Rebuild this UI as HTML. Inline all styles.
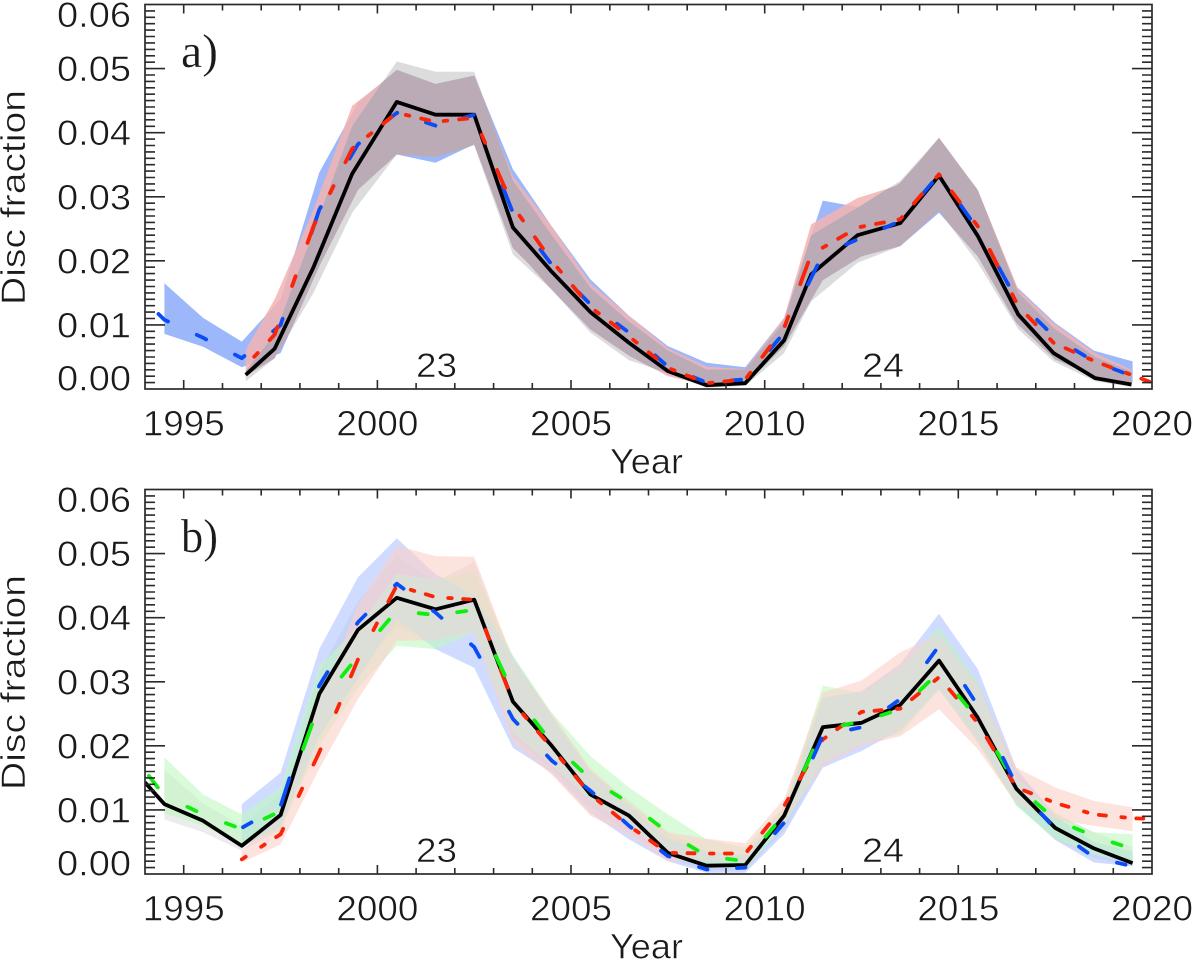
<!DOCTYPE html>
<html>
<head>
<meta charset="utf-8">
<title>Disc fraction vs year</title>
<style>
html,body{margin:0;padding:0;background:#fff;}
svg{display:block;}
text{font-family:"Liberation Sans",sans-serif;fill:#1a1a1a;stroke:#fff;stroke-width:.55px;}
.serif{font-family:"Liberation Serif",serif;stroke-width:.3px;}
</style>
</head>
<body>
<svg id="chart" width="1200" height="972" viewBox="0 0 1200 972" xmlns="http://www.w3.org/2000/svg"></svg>
<script>
// ---------- shared categories and tick labels ----------
const years94 = [1994.5,1995.5,1996.5,1997.5,1998.5,1999.5,2000.5,2001.5,2002.5,2003.5,2004.5,2005.5,2006.5,2007.5,2008.5,2009.5,2010.5,2011.5,2012.5,2013.5,2014.5,2015.5,2016.5,2017.5,2018.5,2019.5];
const years96 = [1996.5,1997.5,1998.5,1999.5,2000.5,2001.5,2002.5,2003.5,2004.5,2005.5,2006.5,2007.5,2008.5,2009.5,2010.5,2011.5,2012.5,2013.5,2014.5,2015.5,2016.5,2017.5,2018.5,2019.5];
const yearsA = [1996.6,1997.35,1998.35,1999.35,2000.5,2001.5,2002.5,2003.5,2004.5,2005.5,2006.5,2007.5,2008.5,2009.5,2010.5,2011.2,2012.4,2013.5,2014.5,2015.5,2016.55,2017.46,2018.53,2019.47];
const yearTicks = [1995,2000,2005,2010,2015,2020];
const fractionTicks = ["0.00","0.01","0.02","0.03","0.04","0.05","0.06"];

// ---------- panel a ----------
const aBlackValues = [.0022,.0063,.0190,.0336,.0448,.0428,.0428,.0252,.0183,.0120,.0072,.0028,.0006,.0009,.0076,.0179,.0240,.0259,.0333,.0239,.0116,.0056,.0017,.0007];
const aBlueYears = [1994.3].concat(years94);
const aBlueValues = [.012,.0108,.008,.0048,.01,.028,.0382,.0431,.0411,.0428,.0275,.0194,.0132,.0088,.0035,.001,.0015,.0088,.021,.0236,.0262,.0335,.0249,.014,.008,.0043,.002];
const aRedYears = yearsA.concat([2020]);
const aRedValues = [.0036,.0085,.0254,.0375,.0431,.0417,.0423,.0285,.02,.0128,.0082,.0033,.0009,.0015,.0095,.021,.0252,.0265,.0335,.0254,.0129,.0072,.0043,.0022,.001];
const aBlueUpper = [.0165,.0111,.0074,.014,.0338,.0447,.0498,.0476,.0489,.0343,.0254,.0171,.0114,.0067,.0041,.0034,.0111,.0294,.0283,.0322,.039,.0311,.016,.0103,.006,.0043];
const aBlueLower = [.0086,.0066,.0034,.0056,.0192,.0311,.0366,.0353,.0382,.022,.016,.0095,.0056,.0022,.0004,.0007,.0067,.017,.0207,.0223,.0275,.0207,.0103,.0046,.002,.001];
const aRedUpper = [.0061,.014,.028,.0442,.0496,.0476,.0483,.0332,.0254,.0165,.0114,.0064,.0035,.0031,.0111,.0257,.0298,.0319,.0392,.0311,.0155,.0103,.0056,.003];
const aRedLower = [.002,.0048,.0202,.03,.0382,.0362,.0382,.0223,.0155,.0093,.0052,.002,.0006,.0009,.0067,.0179,.0205,.0226,.028,.021,.0114,.0055,.0023,.001];
const aGrayUpper = [.0028,.0085,.0245,.041,.0511,.0495,.0495,.0325,.024,.0158,.0105,.006,.003,.003,.0105,.024,.0283,.0325,.0392,.031,.015,.0095,.005,.0027];
const aGrayLower = [.0012,.0048,.015,.0275,.0366,.0362,.038,.021,.0155,.0088,.0045,.0025,.0002,.0005,.0056,.0137,.0197,.0223,.0278,.0197,.0093,.0043,.0012,.0003];

// ---------- panel b ----------
const bBlackYears = [1994].concat(years94);
const bBlackValues = [.0143,.0109,.0083,.0044,.0092,.0281,.0381,.0431,.0413,.0428,.0269,.02,.0124,.0091,.0033,.0013,.0014,.0091,.0229,.0236,.0264,.0333,.0244,.0133,.0072,.004,.0017];
const bGreenYears = [1994.1].concat(years94);
const bGreenValues = [.0153,.0122,.0093,.007,.0098,.0265,.034,.0411,.0404,.0412,.0283,.0205,.0148,.0111,.0065,.0028,.002,.0093,.0226,.0238,.0257,.0315,.0242,.0138,.0085,.0059,.0039];
const bBlueValues = [.0072,.0106,.0294,.0393,.0453,.0408,.0354,.0242,.0177,.013,.0075,.0028,.0007,.001,.008,.0216,.0229,.0273,.0356,.0263,.0138,.007,.0026,.0012];
const bRedYears = years96.concat([2020]);
const bRedValues = [.0023,.0062,.019,.0335,.045,.0432,.0428,.0268,.0197,.0124,.0075,.0033,.0032,.0032,.0106,.021,.0253,.0258,.0307,.0236,.0135,.0111,.0093,.0087,.0086];
const bBlueUpper = [.0109,.0158,.0351,.0463,.0524,.0468,.0434,.034,.0247,.016,.0105,.0055,.0035,.003,.0095,.0275,.0285,.0328,.0406,.032,.0165,.009,.005,.0035];
const bBlueLower = [.0042,.0075,.0215,.0305,.0398,.0351,.0322,.0197,.0158,.0095,.0054,.002,.0002,.0002,.0062,.0166,.0192,.0225,.0288,.021,.0108,.0053,.0018,.0012];
const bRedUpper = [.0035,.0095,.027,.042,.0512,.0496,.0495,.0335,.025,.0165,.011,.0065,.0055,.0048,.0117,.0283,.0302,.0346,.0374,.0295,.0166,.0135,.0114,.0104];
const bRedLower = [.0018,.0046,.0164,.0273,.0364,.0365,.0377,.0205,.0155,.0091,.006,.002,.002,.002,.008,.0169,.02,.0215,.0257,.0195,.011,.0085,.0075,.0067];
const bGreenUpper = [.0182,.0124,.0093,.0135,.0325,.0385,.0468,.046,.0472,.0341,.0252,.0184,.0135,.0093,.0054,.0041,.0105,.0294,.0282,.032,.0385,.03,.015,.0095,.0065,.0062];
const bGreenLower = [.0095,.0075,.0045,.007,.02,.029,.0356,.0351,.0377,.022,.017,.0115,.0075,.003,.0012,.0008,.0075,.0175,.0205,.0218,.0288,.0205,.0106,.0055,.003,.0018];
const bGrayUpper = [.0163,.011,.0075,.0125,.0315,.0425,.0497,.0455,.0488,.033,.0245,.016,.0115,.0065,.0035,.003,.0105,.0275,.0282,.032,.0382,.03,.016,.0095,.0065,.0042];
const bGrayLower = [.0085,.0065,.0036,.0068,.0235,.032,.0385,.0365,.0385,.0215,.0165,.0105,.0065,.0025,.0006,.0006,.0068,.0175,.0205,.0225,.029,.0205,.011,.0055,.0025,.0012];

const NS = "http://www.w3.org/2000/svg";
const svg = document.getElementById("chart");
const LEFT = 145, RIGHT = 1152, X0 = 1994, X1 = 2020, YMAX = 0.06, INK = "#2a2a2a";

function xScale(year){ return LEFT + (year - X0) / (X1 - X0) * (RIGHT - LEFT); }
function yScale(panel, v){ return panel.bottom - v / YMAX * (panel.bottom - panel.top); }

function node(tag, attrs, parent){
  const el = document.createElementNS(NS, tag);
  for (const k in attrs) el.setAttribute(k, attrs[k]);
  (parent || svg).appendChild(el);
  return el;
}

function linePoints(panel, xs, vs){
  return xs.map((x, i) => xScale(x).toFixed(1) + "," + yScale(panel, vs[i]).toFixed(1));
}

function bandPoints(panel, xs, upper, lower){
  return linePoints(panel, xs, upper).concat(linePoints(panel, xs, lower).reverse()).join(" ");
}

function drawBand(group, panel, name, xs, upper, lower, fill, opacity){
  const el = node("polygon", {points: bandPoints(panel, xs, upper, lower), fill: fill, "fill-opacity": opacity, stroke: "none"}, group);
  
  
  return el;
}

function drawLine(group, panel, name, xs, vs, color){
  const el = node("polyline", {points: linePoints(panel, xs, vs).join(" "), fill: "none", stroke: color, "stroke-width": 3.8, "stroke-linejoin": "round"}, group);
  
  
}

// The reference's dashes repeat at a fixed horizontal distance, so steep stretches get long dashes.
function dashedPath(panel, xs, vs, period, dashes){
  const px = xs.map(xScale), py = vs.map(v => yScale(panel, v));
  const lo = px[0], hi = px[px.length - 1];
  function yAt(x){
    for (let i = 0; i < px.length - 1; i++){
      if (x <= px[i + 1]) return py[i] + (py[i + 1] - py[i]) * (x - px[i]) / (px[i + 1] - px[i]);
    }
    return py[py.length - 1];
  }
  let d = "";
  dashes.forEach(function(dash){
    for (let s = dash[0] - period * Math.ceil((dash[0] - lo) / period + 1); s < hi; s += period){
      const a = Math.max(s, lo), b = Math.min(s + dash[1], hi);
      if (b <= a) continue;
      d += "M" + a.toFixed(1) + " " + yAt(a).toFixed(1);
      px.forEach(function(x, i){ if (x > a && x < b) d += "L" + x.toFixed(1) + " " + py[i].toFixed(1); });
      d += "L" + b.toFixed(1) + " " + yAt(b).toFixed(1);
    }
  });
  return d;
}

function drawDashed(group, panel, name, xs, vs, color, period, dashes){
  const el = node("path", {d: dashedPath(panel, xs, vs, period, dashes), fill: "none", stroke: color, "stroke-width": 3.8, "stroke-linecap": "round", "stroke-linejoin": "round"}, group);
  
  
}

function drawText(parent, name, str, x, y, opts){
  const o = opts || {};
  const t = node("text", {x: x, y: y, "font-size": o.size || 35}, parent);
  if (o.anchor) t.setAttribute("text-anchor", o.anchor);
  if (o.length){ t.setAttribute("textLength", o.length); t.setAttribute("lengthAdjust", "spacingAndGlyphs"); }
  if (o.cls) t.setAttribute("class", o.cls);
  if (o.transform) t.setAttribute("transform", o.transform);
  t.textContent = str;
  
  
  return t;
}

function drawAxes(panel, off){
  const g = node("g", {});
  
  
  const frame = node("rect", {x: LEFT, y: panel.top, width: RIGHT - LEFT, height: panel.bottom - panel.top, fill: "none", stroke: INK, "stroke-width": 1.7}, g);
  
  

  let d = "";
  for (let yr = X0 + 1; yr < X1; yr++){
    const len = yr % 5 === 0 ? 9 : 6, x = xScale(yr).toFixed(1);
    d += "M" + x + " " + panel.bottom + "v-" + len + "M" + x + " " + panel.top + "v" + len;
  }
  for (let k = 1; k < 60; k++){
    const len = k % 10 === 0 ? 20 : 10, y = yScale(panel, k / 1000).toFixed(1);
    d += "M" + LEFT + " " + y + "h" + len + "M" + RIGHT + " " + y + "h-" + len;
  }
  const ticks = node("path", {d: d, stroke: INK, "stroke-width": 1.6, fill: "none"}, g);
  
  

  yearTicks.forEach(function(yr){
    drawText(g, panel.id + '-x-tick-label', String(yr), xScale(yr), 435.5 + off, {anchor: "middle", length: 82});
  });
  fractionTicks.forEach(function(lab){
    const v = parseFloat(lab);
    let base = yScale(panel, v) + 12.5;
    if (v === 0) base = panel.bottom + 1.5;
    if (v === 0.06) base = panel.top + 22.5;
    drawText(g, panel.id + '-y-tick-label', lab, 57, base, {length: 74});
  });
  drawText(g, panel.id + '-x-axis-title', "Year", 610, 473.5 + off, {length: 73});
  drawText(g, panel.id + '-y-axis-title', "Disc  fraction", 25, 305 + off, {size: 34, length: 215, transform: "rotate(-90 25 " + (305 + off) + ")"});
  drawText(g, panel.id + '-cycle-23-label', "23", 416, 377 + off, {size: 34, length: 41});
  drawText(g, panel.id + '-cycle-24-label', "24", 862, 377 + off, {size: 34, length: 42});
  drawText(g, panel.id + '-letter', panel.letter, 181, 67 + off, {size: 48, length: 37, cls: "serif"});
}

function clipGroup(panel){
  const cp = node("clipPath", {id: "clip-" + panel.id});
  node("rect", {x: LEFT, y: panel.top, width: RIGHT - LEFT, height: panel.bottom - panel.top + 2}, cp);
  const g = node("g", {"clip-path": "url(#clip-" + panel.id + ")"});
  
  
  return g;
}

const panelA = {id: "panel-a", letter: "a)", top: 4.5, bottom: 389};
const panelB = {id: "panel-b", letter: "b)", top: 489.5, bottom: 874};
const BLUE = "#0a4cf5", RED = "#fa2408", GREEN = "#10ee10", BLACK = "#000";

// panel a
const ga = clipGroup(panelA);
drawBand(ga, panelA, "a-gray-band", yearsA, aGrayUpper, aGrayLower, "#dcdcdc", 1);
drawBand(ga, panelA, "a-blue-band", years94, aBlueUpper, aBlueLower, "#9cb8fb", 1);
drawBand(ga, panelA, "a-red-band", yearsA, aRedUpper, aRedLower, "#f3b3b0", .85);
const grayClip = node("clipPath", {id: "clip-a-gray"});
node("polygon", {points: bandPoints(panelA, yearsA, aGrayUpper, aGrayLower)}, grayClip);
const overlap = node("g", {"clip-path": "url(#clip-a-gray)"}, ga);


drawBand(overlap, panelA, "a-overlap-blue", years94, aBlueUpper, aBlueLower, "#baabb7", 1);
drawBand(overlap, panelA, "a-overlap-red", yearsA, aRedUpper, aRedLower, "#baabb7", 1);
drawLine(ga, panelA, "a-black-line", yearsA, aBlackValues, BLACK);
drawDashed(ga, panelA, "a-blue-line", aBlueYears, aBlueValues, BLUE, 38.2, [[158.5, 9.5]]);
drawDashed(ga, panelA, "a-red-line", aRedYears, aRedValues, RED, 37.9, [[307.5, 8], [330, 3.5]]);
drawAxes(panelA, 0);

// panel b
const gb = clipGroup(panelB);
drawBand(gb, panelB, "b-gray-band", years94, bGrayUpper, bGrayLower, "#ececec", 1);
drawBand(gb, panelB, "b-blue-band", years96, bBlueUpper, bBlueLower, "#afc5ff", .6);
drawBand(gb, panelB, "b-green-band", years94, bGreenUpper, bGreenLower, "#c0f8c0", .6);
drawBand(gb, panelB, "b-red-band", years96, bRedUpper, bRedLower, "#fcd0c8", .6);
const blueClip = node("clipPath", {id: "clip-b-blue"});
node("polygon", {points: bandPoints(panelB, years96, bBlueUpper, bBlueLower)}, blueClip);
const redClip = node("clipPath", {id: "clip-b-red"});
node("polygon", {points: bandPoints(panelB, years96, bRedUpper, bRedLower)}, redClip);
const outerOverlap = node("g", {"clip-path": "url(#clip-b-blue)"}, gb);


const innerOverlap = node("g", {"clip-path": "url(#clip-b-red)"}, outerOverlap);


drawBand(innerOverlap, panelB, "b-overlap-green", years94, bGreenUpper, bGreenLower, "#dcdfd8", 1);
drawLine(gb, panelB, "b-black-line", bBlackYears, bBlackValues, BLACK);
drawDashed(gb, panelB, "b-red-line", bRedYears, bRedValues, RED, 37.4, [[313.5, 7], [336, 3.5]]);
drawDashed(gb, panelB, "b-green-line", bGreenYears, bGreenValues, GREEN, 38.55, [[148.8, 9]]);
drawDashed(gb, panelB, "b-blue-line", years96, bBlueValues, BLUE, 38, [[281, 8.5]]);
drawAxes(panelB, 485);
</script>
</body>
</html>
